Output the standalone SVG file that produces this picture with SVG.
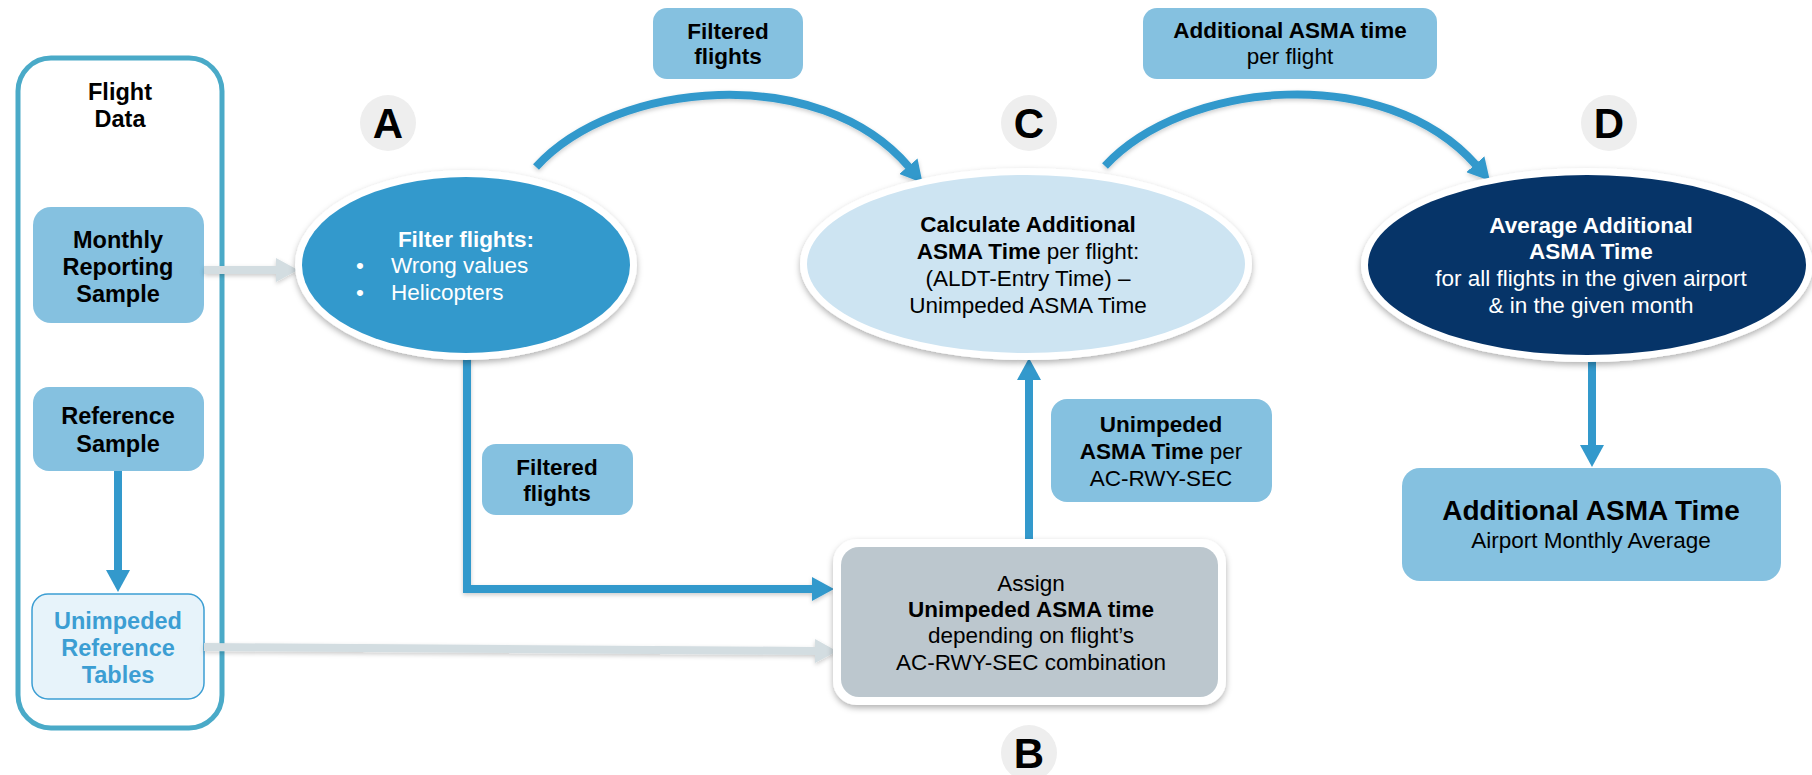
<svg xmlns="http://www.w3.org/2000/svg" width="1812" height="775" viewBox="0 0 1812 775">
<defs>
<style>
text{font-family:"Liberation Sans",Arial,sans-serif;font-size:22.5px;text-anchor:middle;fill:#000}
.b{font-weight:bold}
.w{fill:#fff}
.lf{font-size:23.5px}
.lbl{fill:#85C1E0}
.let{font-size:42px;font-weight:bold}
.circ{fill:#EEEEEE}
.blue{fill:none;stroke:#3399CC;stroke-width:8}
.gray{fill:none;stroke:#D3DDE1;stroke-width:8}
.tbl{fill:#3C9ED3}
</style>
<filter id="sh" x="-10%" y="-10%" width="120%" height="130%">
<feDropShadow dx="0" dy="3" stdDeviation="3" flood-color="#000" flood-opacity="0.3"/>
</filter>
<filter id="shl" filterUnits="userSpaceOnUse" x="0" y="0" width="1812" height="775">
<feDropShadow dx="0" dy="2" stdDeviation="2" flood-color="#000" flood-opacity="0.2"/>
</filter>
<marker id="ab" markerUnits="userSpaceOnUse" viewBox="0 0 22 24" refX="1" refY="12" markerWidth="22" markerHeight="24" orient="auto">
<path d="M0,0 L22,12 L0,24 Z" fill="#3399CC"/>
</marker>
<marker id="ag" markerUnits="userSpaceOnUse" viewBox="0 0 22 24" refX="1" refY="12" markerWidth="22" markerHeight="24" orient="auto">
<path d="M0,0 L22,12 L0,24 Z" fill="#D3DDE1"/>
</marker>
</defs>
<rect width="1812" height="775" fill="#fff"/>

<g id="flight-data">
<rect x="18" y="58" width="204" height="670" rx="33" fill="none" stroke="#4AAAC8" stroke-width="5"/>
<text class="b lf" x="120" y="100">Flight</text>
<text class="b lf" x="120" y="127">Data</text>
</g>

<g id="monthly-sample">
<rect class="lbl" x="33" y="207" width="171" height="116" rx="18"/>
<text class="b lf" x="118" y="248">Monthly</text>
<text class="b lf" x="118" y="275">Reporting</text>
<text class="b lf" x="118" y="302">Sample</text>
</g>

<g id="reference-sample">
<rect class="lbl" x="33" y="387" width="171" height="84" rx="16"/>
<text class="b lf" x="118" y="424">Reference</text>
<text class="b lf" x="118" y="452">Sample</text>
</g>

<g id="reference-tables">
<rect x="32" y="594" width="172" height="105" rx="16" fill="#E7F3FA" stroke="#3C9ED3" stroke-width="1.5"/>
<text class="b lf tbl" x="118" y="629">Unimpeded</text>
<text class="b lf tbl" x="118" y="656">Reference</text>
<text class="b lf tbl" x="118" y="683">Tables</text>
</g>

<g id="connectors">
<path class="gray" d="M204,270 L277,270" marker-end="url(#ag)" filter="url(#shl)"/>
<path class="gray" d="M204,647 L816,651" marker-end="url(#ag)" filter="url(#shl)"/>
<path class="blue" d="M118,471 L118,571" marker-end="url(#ab)" stroke-width="7"/>
<path class="blue" d="M536,167 C615,80 820,62 909,167" marker-end="url(#ab)" filter="url(#shl)"/>
<path class="blue" d="M1105,166 C1185,80 1385,62 1476,165" marker-end="url(#ab)" filter="url(#shl)"/>
<path class="blue" d="M467,355 L467,589 L813,589" marker-end="url(#ab)" stroke-width="7" filter="url(#shl)"/>
<path class="blue" d="M1029,547 L1029,379" marker-end="url(#ab)" stroke-width="7"/>
<path class="blue" d="M1592,356 L1592,446" marker-end="url(#ab)" stroke-width="7"/>
</g>

<g id="node-a">
<ellipse cx="466" cy="265" rx="171" ry="95" fill="#fff" filter="url(#sh)"/>
<ellipse cx="466" cy="265" rx="164" ry="88" fill="#3399CC"/>
<text class="b w" x="466" y="247">Filter flights:</text>
<text class="w" x="360" y="273">•</text>
<text class="w" x="391" y="273" style="text-anchor:start">Wrong values</text>
<text class="w" x="360" y="300">•</text>
<text class="w" x="391" y="300" style="text-anchor:start">Helicopters</text>
</g>

<g id="label-a">
<circle class="circ" cx="388" cy="123" r="28"/>
<text class="let" x="388" y="138">A</text>
</g>

<g id="label-filtered-top">
<rect class="lbl" x="653" y="8" width="150" height="71" rx="14"/>
<text class="b" x="728" y="39">Filtered</text>
<text class="b" x="728" y="64">flights</text>
</g>

<g id="node-c">
<ellipse cx="1026" cy="264" rx="226" ry="96" fill="#fff" filter="url(#sh)"/>
<ellipse cx="1026" cy="264" rx="219" ry="89" fill="#CDE4F2"/>
<text class="b" x="1028" y="232">Calculate Additional</text>
<text x="1028" y="259"><tspan class="b">ASMA Time</tspan> per flight:</text>
<text x="1028" y="286">(ALDT-Entry Time) –</text>
<text x="1028" y="313">Unimpeded ASMA Time</text>
</g>

<g id="label-c">
<circle class="circ" cx="1029" cy="123" r="28"/>
<text class="let" x="1029" y="138">C</text>
</g>

<g id="label-additional-per-flight">
<rect class="lbl" x="1143" y="8" width="294" height="71" rx="14"/>
<text class="b" x="1290" y="38">Additional ASMA time</text>
<text x="1290" y="64">per flight</text>
</g>

<g id="node-d">
<ellipse cx="1587" cy="265" rx="226" ry="97" fill="#fff" filter="url(#sh)"/>
<ellipse cx="1587" cy="265" rx="219" ry="90" fill="#063468"/>
<text class="b w" x="1591" y="233">Average Additional</text>
<text class="b w" x="1591" y="259">ASMA Time</text>
<text class="w" x="1591" y="286">for all flights in the given airport</text>
<text class="w" x="1591" y="313">&amp; in the given month</text>
</g>

<g id="label-d">
<circle class="circ" cx="1609" cy="123" r="28"/>
<text class="let" x="1609" y="138">D</text>
</g>

<g id="result-box">
<rect class="lbl" x="1402" y="468" width="379" height="113" rx="18"/>
<text class="b" x="1591" y="520" style="font-size:28px">Additional ASMA Time</text>
<text x="1591" y="548">Airport Monthly Average</text>
</g>

<g id="label-filtered-lower">
<rect class="lbl" x="482" y="444" width="151" height="71" rx="14"/>
<text class="b" x="557" y="475">Filtered</text>
<text class="b" x="557" y="501">flights</text>
</g>

<g id="label-unimpeded-per-acrwysec">
<rect class="lbl" x="1051" y="399" width="221" height="103" rx="16"/>
<text class="b" x="1161" y="432">Unimpeded</text>
<text x="1161" y="459"><tspan class="b">ASMA Time</tspan> per</text>
<text x="1161" y="486">AC-RWY-SEC</text>
</g>

<g id="node-b">
<rect x="833" y="539" width="393" height="166" rx="24" fill="#fff" filter="url(#sh)"/>
<rect x="841" y="547" width="377" height="150" rx="18" fill="#BCC7CE"/>
<text x="1031" y="591">Assign</text>
<text class="b" x="1031" y="617">Unimpeded ASMA time</text>
<text x="1031" y="643">depending on flight’s</text>
<text x="1031" y="670">AC-RWY-SEC combination</text>
</g>

<g id="label-b">
<circle class="circ" cx="1029" cy="753" r="28"/>
<text class="let" x="1029" y="768">B</text>
</g>
</svg>
